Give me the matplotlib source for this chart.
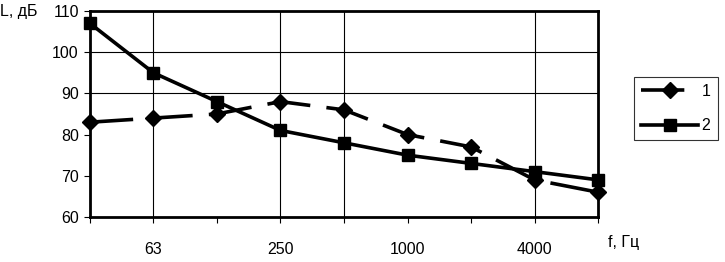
import matplotlib
matplotlib.use("Agg")
import matplotlib.pyplot as plt

plt.rcParams['font.family'] = ['Liberation Sans', 'DejaVu Sans']

# octave band centres (only some are labelled on the axis)
freqs = ["31.5", "63", "125", "250", "500", "1000", "2000", "4000", "8000"]
shown = ["63", "250", "1000", "4000"]
series1 = [83, 84, 85, 88, 86, 80, 77, 69, 66]
series2 = [107, 95, 88, 81, 78, 75, 73, 71, 69]
grid_x = ["63", "250", "500", "4000"]
grid_y = [90, 100]

fig = plt.figure(figsize=(7.25, 2.62), dpi=100)
ax = fig.add_axes([0.124, 0.172, 0.701, 0.786])

x = list(range(len(freqs)))
ax.plot(x, series1, color="black", lw=2.6, dashes=(12, 4.5),
        marker="D", ms=8, label="1", clip_on=False, zorder=3)
ax.plot(x, series2, color="black", lw=2.6,
        marker="s", ms=8, label="2", clip_on=False, zorder=3)

for f in grid_x:
    ax.axvline(freqs.index(f), color="black", lw=0.8, zorder=1)
for v in grid_y:
    ax.axhline(v, color="black", lw=0.8, zorder=1)

ax.set_xlim(0, len(freqs) - 1)
ax.set_ylim(60, 110)
ax.set_yticks(range(60, 111, 10))
ax.set_xticks(x)
ax.set_xticklabels([f if f in shown else "" for f in freqs])
ax.tick_params(direction="out", length=4, width=0.8, labelsize=11.5, pad=4)
ax.tick_params(axis="x", pad=14)
for s in ax.spines.values():
    s.set_linewidth(2)

fig.text(0.0, 0.955, "L, дБ", fontsize=11.5, ha="left", va="center")
fig.text(0.838, 0.075, "f, Гц", fontsize=11.5, ha="left", va="center")

leg = ax.legend(loc="upper left", bbox_to_anchor=(1.07, 0.68), frameon=True,
                fancybox=False, edgecolor="black", fontsize=11.5,
                handlelength=3.6, handletextpad=0.2, borderpad=0.45,
                labelspacing=1.2, borderaxespad=0)
leg.get_frame().set_linewidth(0.8)

fig.savefig("out.png", dpi=100)
